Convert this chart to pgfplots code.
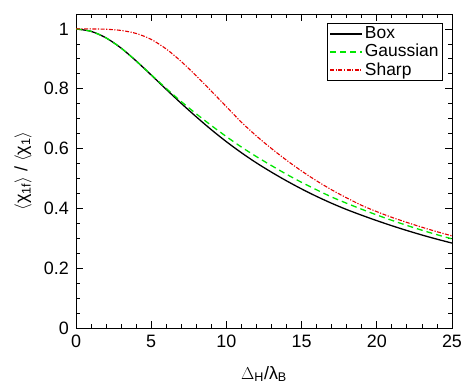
\documentclass[border=0pt]{standalone}
\usepackage{fontspec}
\setmainfont{Liberation Sans}
\usepackage{pgfplots}
\pgfplotsset{compat=1.18}
\definecolor{mygreen}{RGB}{0,230,0}
\definecolor{myred}{RGB}{230,0,0}
\begin{document}
\fontsize{18}{21}\selectfont
\begin{tikzpicture}
\useasboundingbox (0,0) rectangle (462bp,391bp);
\begin{axis}[
  at={(76bp,63bp)}, anchor=south west,
  scale only axis, width=376bp, height=314bp,
  xmin=0, xmax=25, ymin=0, ymax=1.05,
  xtick={0,5,...,25}, ytick={0,0.2,0.4,0.6,0.8,1},
  yticklabels={0,0.2,0.4,0.6,0.8,1},
  minor xtick={1,2,3,4,6,7,8,9,11,12,13,14,16,17,18,19,21,22,23,24},
  minor ytick={0.05,0.1,0.15,0.25,0.3,0.35,0.45,0.5,0.55,0.65,0.7,0.75,0.85,0.9,0.95,1.05},
  tick align=inside, tick pos=both,
  major tick length=7bp, minor tick length=4bp,
  tick style={black, line width=0.8bp},
  axis line style={line width=0.9bp},
  /pgf/number format/assume math mode=true,
  tick label style={font=\fontsize{18}{21}\selectfont},
  xticklabel style={yshift=-1bp},
  yticklabel style={xshift=-1bp},
  xlabel={$\Delta$\textsubscript{H}/λ\textsubscript{B}},
  ylabel={$\langle$χ\textsubscript{1f}$\rangle$ / $\langle$χ\textsubscript{1}$\rangle$},
  label style={font=\fontsize{18}{21}\selectfont},
  xlabel style={yshift=-6bp},
  legend style={at={(rel axis cs:0.976,0.971)}, anchor=north east,
    font=\fontsize{17.5}{20}\selectfont, line width=0.8bp,
    inner xsep=2bp, inner ysep=1bp, row sep=-1bp, cells={anchor=west}},
  legend image code/.code={\draw[#1] (0bp,0bp) -- (32bp,0bp);},
  legend cell align=left,
]
\addlegendimage{black, line width=1.4bp}
\addlegendentry{Box}
\addlegendimage{mygreen, line width=1.6bp, dash pattern=on 6bp off 4bp}
\addlegendentry{Gaussian}
\addlegendimage{myred, line width=1.3bp, dash pattern=on 4bp off 1.5bp on 1.2bp off 1.5bp}
\addlegendentry{Sharp}
\addplot[black, line width=1.3bp, smooth, forget plot] coordinates {
(0,1.000) (1,0.992) (2,0.970) (3,0.936) (4,0.893) (5,0.846) (6,0.798) (7,0.751)
(8,0.706) (9,0.663) (10,0.623) (11,0.586) (12,0.552) (13,0.521) (14,0.492)
(15,0.465) (16,0.440) (17,0.417) (18,0.396) (19,0.377) (20,0.359) (21,0.342)
(22,0.326) (23,0.311) (24,0.297) (25,0.284)};
\addplot[mygreen, line width=1.3bp, smooth, forget plot, dash pattern=on 6bp off 4bp] coordinates {
(0,1.000) (1,0.992) (2,0.970) (3,0.936) (4,0.893) (5,0.847) (6,0.801) (7,0.757)
(8,0.716) (9,0.677) (10,0.640) (11,0.605) (12,0.573) (13,0.543) (14,0.514)
(15,0.487) (16,0.462) (17,0.438) (18,0.417) (19,0.397) (20,0.378) (21,0.360)
(22,0.343) (23,0.327) (24,0.312) (25,0.298)};
\addplot[myred, line width=1.1bp, smooth, forget plot, dash pattern=on 4bp off 1.5bp on 1.2bp off 1.5bp] coordinates {
(0,1.000) (1,1.000) (2,0.999) (3,0.995) (4,0.985) (5,0.965) (6,0.933) (7,0.891)
(8,0.843) (9,0.792) (10,0.740) (11,0.688) (12,0.642) (13,0.600) (14,0.561)
(15,0.525) (16,0.492) (17,0.462) (18,0.435) (19,0.410) (20,0.389) (21,0.370)
(22,0.353) (23,0.337) (24,0.322) (25,0.308)};
\end{axis}
\end{tikzpicture}
\end{document}
